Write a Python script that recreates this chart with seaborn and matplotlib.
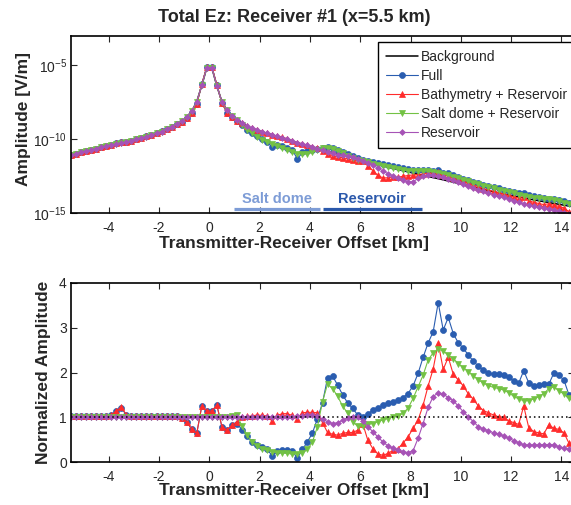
import numpy as np
import pandas as pd
import matplotlib
matplotlib.use('Agg')
import matplotlib.pyplot as plt
import seaborn as sns

# receiver offsets [km]
offset_km = [-5.5, -5.3, -5.1, -4.9, -4.7, -4.5, -4.3, -4.1, -3.9, -3.7,
             -3.5, -3.3, -3.1, -2.9, -2.7, -2.5, -2.3, -2.1, -1.9, -1.7,
             -1.5, -1.3, -1.1, -0.9, -0.7, -0.5, -0.3, -0.1, 0.1, 0.3,
             0.5, 0.7, 0.9, 1.1, 1.3, 1.5, 1.7, 1.9, 2.1, 2.3,
             2.5, 2.7, 2.9, 3.1, 3.3, 3.5, 3.7, 3.9, 4.1, 4.3,
             4.5, 4.7, 4.9, 5.1, 5.3, 5.5, 5.7, 5.9, 6.1, 6.3,
             6.5, 6.7, 6.9, 7.1, 7.3, 7.5, 7.7, 7.9, 8.1, 8.3,
             8.5, 8.7, 8.9, 9.1, 9.3, 9.5, 9.7, 9.9, 10.1, 10.3,
             10.5, 10.7, 10.9, 11.1, 11.3, 11.5, 11.7, 11.9, 12.1, 12.3,
             12.5, 12.7, 12.9, 13.1, 13.3, 13.5, 13.7, 13.9, 14.1, 14.3,
             14.5]

# background amplitude, log10 [V/m]
background_log10 = [-11.09, -10.99, -10.90, -10.81, -10.72, -10.64, -10.56, -10.48, -10.40, -10.33,
                    -10.26, -10.18, -10.10, -10.02, -9.92, -9.82, -9.72, -9.60, -9.48, -9.33,
                    -9.17, -9.00, -8.80, -8.50, -8.10, -7.45, -6.35, -5.15, -5.15, -6.40,
                    -7.45, -8.05, -8.40, -8.70, -8.92, -9.12, -9.26, -9.38, -9.50, -9.60,
                    -9.70, -9.80, -9.90, -10.00, -10.12, -10.24, -10.34, -10.44, -10.54, -10.64,
                    -10.74, -10.82, -10.90, -10.98, -11.06, -11.14, -11.24, -11.32, -11.41, -11.50,
                    -11.60, -11.70, -11.80, -11.89, -11.97, -12.05, -12.13, -12.21, -12.29, -12.37,
                    -12.45, -12.52, -12.60, -12.67, -12.75, -12.83, -12.91, -12.99, -13.07, -13.16,
                    -13.24, -13.32, -13.40, -13.48, -13.56, -13.63, -13.70, -13.77, -13.84, -13.91,
                    -13.98, -14.05, -14.11, -14.17, -14.23, -14.29, -14.35, -14.41, -14.47, -14.53,
                    -14.59]

# amplitudes normalized by background
full_norm = [1.03, 1.03, 1.03, 1.03, 1.03, 1.03, 1.03, 1.03, 1.05, 1.13,
             1.21, 1.05, 1.03, 1.03, 1.03, 1.03, 1.03, 1.03, 1.03, 1.03,
             1.03, 1.02, 0.98, 0.90, 0.73, 0.64, 1.25, 1.14, 1.14, 1.27,
             0.79, 0.71, 0.82, 0.86, 0.72, 0.58, 0.45, 0.38, 0.33, 0.28,
             0.14, 0.25, 0.27, 0.27, 0.25, 0.08, 0.28, 0.45, 0.65, 0.97,
             1.32, 1.88, 1.92, 1.72, 1.50, 1.32, 1.20, 1.05, 1.00, 1.07,
             1.16, 1.21, 1.27, 1.31, 1.34, 1.38, 1.44, 1.53, 1.70, 1.98,
             2.34, 2.66, 2.91, 3.56, 2.95, 3.23, 2.87, 2.66, 2.54, 2.39,
             2.25, 2.14, 2.05, 1.99, 1.96, 1.96, 1.94, 1.89, 1.81, 1.76,
             2.04, 1.77, 1.70, 1.72, 1.74, 1.74, 1.99, 1.94, 1.83, 1.50,
             1.40]

bathy_norm = [1.03, 1.03, 1.03, 1.03, 1.03, 1.03, 1.03, 1.03, 1.05, 1.14,
              1.23, 1.05, 1.03, 1.03, 1.03, 1.03, 1.03, 1.03, 1.03, 1.03,
              1.03, 1.02, 0.98, 0.90, 0.73, 0.64, 1.25, 1.14, 1.14, 1.27,
              0.79, 0.71, 0.82, 0.90, 1.00, 1.02, 1.03, 1.05, 1.04, 1.03,
              0.91, 1.04, 1.08, 1.08, 1.04, 0.97, 1.10, 1.11, 1.11, 1.10,
              0.88, 0.66, 0.62, 0.60, 0.64, 0.66, 0.66, 0.71, 0.86, 0.49,
              0.30, 0.18, 0.15, 0.19, 0.26, 0.30, 0.42, 0.56, 0.75, 0.94,
              1.27, 1.70, 2.08, 2.66, 2.07, 2.34, 1.96, 1.83, 1.70, 1.52,
              1.40, 1.25, 1.15, 1.10, 1.05, 1.01, 1.00, 0.92, 0.88, 0.84,
              1.25, 0.77, 0.68, 0.65, 0.63, 0.83, 0.75, 0.73, 0.65, 0.42,
              0.30]

salt_norm = [1.01, 1.01, 1.01, 1.01, 1.01, 1.01, 1.01, 1.01, 1.01, 1.01,
             1.01, 1.01, 1.01, 1.01, 1.01, 1.01, 1.01, 1.01, 1.01, 1.01,
             1.01, 1.01, 1.01, 1.01, 1.01, 1.01, 1.01, 1.01, 1.01, 1.01,
             1.01, 1.01, 1.02, 1.05, 0.80, 0.60, 0.45, 0.36, 0.30, 0.26,
             0.23, 0.21, 0.20, 0.19, 0.18, 0.18, 0.21, 0.28, 0.45, 0.79,
             1.35, 1.74, 1.64, 1.47, 1.25, 1.09, 0.90, 0.80, 0.80, 0.84,
             0.86, 0.90, 0.94, 0.97, 1.01, 1.03, 1.09, 1.20, 1.42, 1.68,
             1.94, 2.28, 2.44, 2.52, 2.48, 2.39, 2.31, 2.20, 2.11, 2.02,
             1.93, 1.83, 1.77, 1.70, 1.67, 1.64, 1.61, 1.55, 1.47, 1.41,
             1.37, 1.37, 1.41, 1.46, 1.53, 1.64, 1.68, 1.59, 1.52, 1.42,
             1.35]

reservoir_norm = [1.01, 1.01, 1.01, 1.01, 1.01, 1.01, 1.01, 1.01, 1.01, 1.01,
                  1.01, 1.01, 1.01, 1.01, 1.01, 1.01, 1.01, 1.01, 1.01, 1.01,
                  1.01, 1.01, 1.01, 1.01, 1.01, 1.01, 1.01, 1.01, 1.01, 1.01,
                  1.01, 1.01, 1.01, 1.01, 1.01, 1.01, 1.01, 1.01, 1.01, 1.01,
                  1.01, 1.01, 1.01, 1.01, 1.01, 1.02, 1.03, 1.04, 1.04, 1.03,
                  0.96, 0.90, 0.86, 0.88, 0.93, 0.99, 1.01, 1.00, 0.92, 0.79,
                  0.68, 0.56, 0.45, 0.36, 0.31, 0.27, 0.23, 0.21, 0.25, 0.53,
                  0.86, 1.22, 1.46, 1.55, 1.52, 1.44, 1.37, 1.25, 1.12, 1.01,
                  0.90, 0.79, 0.73, 0.70, 0.65, 0.63, 0.58, 0.53, 0.48, 0.43,
                  0.38, 0.38, 0.38, 0.38, 0.39, 0.39, 0.38, 0.34, 0.31, 0.28,
                  0.27]

series_names = ['Full', 'Bathymetry + Reservoir', 'Salt dome + Reservoir', 'Reservoir']
series_norm = [full_norm, bathy_norm, salt_norm, reservoir_norm]

# anomaly regions marked under the top panel
regions = [('Salt dome', 1.0, 4.4), ('Reservoir', 4.5, 8.45)]

sns.set_style('ticks')
plt.rcParams['font.family'] = ['Liberation Sans', 'DejaVu Sans']
plt.rcParams['axes.unicode_minus'] = False
plt.rcParams['mathtext.fontset'] = 'custom'
plt.rcParams['mathtext.rm'] = 'Liberation Sans'

colors = ['#2a5db0', '#ff2b2b', '#73c244', '#a653b6']
markers = ['o', '^', 'v', 'D']
msizes = [4.3, 4.3, 4.3, 3.0]
region_colors = ['#7d9cd6', '#2a58ab']

x = np.array(offset_km)
bg = 10 ** np.array(background_log10)

fig = plt.figure(figsize=(5.71, 5.05), dpi=100)
ax1 = fig.add_axes([71/571, 1-213/505, 503/571, 177/505])
ax2 = fig.add_axes([71/571, 1-462/505, 503/571, 179/505])

# ---- top: absolute amplitude
ax1.set_yscale('log')
sns.lineplot(x=x, y=bg, ax=ax1, color='black', linewidth=1.1, label='Background',
             estimator=None, sort=False)
for name, norm, c, m, ms in zip(series_names, series_norm, colors, markers, msizes):
    sns.lineplot(x=x, y=bg * np.array(norm), ax=ax1, color=c, linewidth=0.8, marker=m,
                 markersize=ms, markeredgecolor=c, markeredgewidth=0.5, label=name,
                 estimator=None, sort=False)

for (txt, x0, x1), rc in zip(regions, region_colors):
    ax1.plot([x0, x1], [10**-14.73, 10**-14.73], color=rc, lw=2.3, solid_capstyle='butt')
    ax1.text((x0 + x1) / 2, 10**-14.05, txt, color=rc, fontsize=10.5, fontweight='bold',
             ha='center', va='center')

ax1.set_xlim(-5.5, 14.5)
ax1.set_ylim(1e-15, 1e-3)
ax1.set_yticks([1e-15, 1e-10, 1e-5])
ax1.yaxis.set_minor_locator(matplotlib.ticker.NullLocator())
ax1.set_xticks(range(-4, 15, 2))
ax1.set_ylabel('Amplitude [V/m]', fontsize=12.5, fontweight='bold')
ax1.set_xlabel('Transmitter-Receiver Offset [km]', fontsize=12.5, fontweight='bold')
ax1.yaxis.set_label_coords(-0.08, 0.53)
ax1.xaxis.set_label_coords(0.443, -0.13)

h, l = ax1.get_legend_handles_labels()
ax1.legend(h, l, loc='upper left', bbox_to_anchor=(377.7/571, 1-41.7/505),
           bbox_transform=fig.transFigure, borderaxespad=0, fontsize=10,
           frameon=True, fancybox=False, framealpha=1, edgecolor='black',
           borderpad=0.6, labelspacing=0.36, handlelength=2.3, handletextpad=0.2)
ax1.get_legend().get_frame().set_linewidth(1.0)

# ---- bottom: normalized amplitude
for norm, c, m, ms in zip(series_norm, colors, markers, msizes):
    sns.lineplot(x=x, y=np.array(norm), ax=ax2, color=c, linewidth=0.8, marker=m,
                 markersize=ms, markeredgecolor=c, markeredgewidth=0.5, legend=False,
                 estimator=None, sort=False)
sns.lineplot(x=x, y=bg / bg, ax=ax2, color='black', linewidth=1.1, linestyle=(0, (1, 2)),
             legend=False, estimator=None, sort=False)

ax2.set_xlim(-5.5, 14.5)
ax2.set_ylim(0, 4)
ax2.set_yticks(range(0, 5))
ax2.set_xticks(range(-4, 15, 2))
ax2.set_ylabel('Normalized Amplitude', fontsize=12.5, fontweight='bold')
ax2.set_xlabel('Transmitter-Receiver Offset [km]', fontsize=12.5, fontweight='bold')
ax2.yaxis.set_label_coords(-0.04, 0.5)
ax2.xaxis.set_label_coords(0.443, -0.117)

for ax in (ax1, ax2):
    ax.tick_params(direction='in', top=True, right=True, length=4, width=0.8,
                   labelsize=10, pad=6)
    ax.tick_params(axis='y', pad=3)
    for s in ax.spines.values():
        s.set_linewidth(1.2)
        s.set_color('black')

fig.text(294/571, 1-18/505, 'Total Ez: Receiver #1 (x=5.5 km)', fontsize=13,
         fontweight='bold', ha='center', va='center')

fig.savefig('out.png', dpi=100)
